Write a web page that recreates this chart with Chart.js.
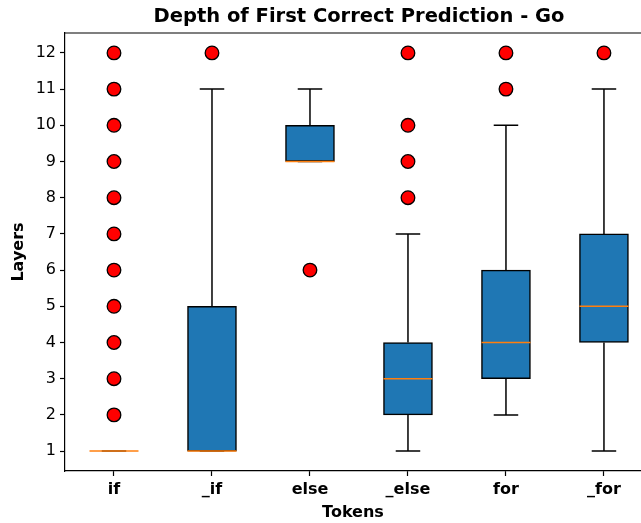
<!DOCTYPE html>
<html>
<head>
<meta charset="utf-8">
<script src="https://cdn.jsdelivr.net/npm/chart.js@4.4.1/dist/chart.umd.min.js"></script>
<style>
  html, body { margin: 0; padding: 0; background: #fff; overflow: hidden; }
  #wrap { width: 641px; height: 523px; }
</style>
</head>
<body>
<div id="wrap"><canvas id="boxChart" width="641" height="523"></canvas></div>
<script>
// Box plot values
var tokens = ['if', '_if', 'else', '_else', 'for', '_for'];
var q1 = [1, 1, 9, 2, 3, 4];
var q3 = [1, 5, 10, 4, 6, 7];
var medians = [1, 1, 9, 3, 4, 5];
var whiskerLow = [1, 1, 9, 1, 2, 1];
var whiskerHigh = [1, 11, 11, 7, 10, 11];
var outliers = [
  [2, 3, 4, 5, 6, 7, 8, 9, 10, 11, 12],
  [12],
  [6],
  [8, 9, 10, 12],
  [11, 12],
  [12]
];
var yTicks = [1, 2, 3, 4, 5, 6, 7, 8, 9, 10, 11, 12];
var chartTitle = 'Depth of First Correct Prediction - Go';

var fontFamily = '"DejaVu Sans", sans-serif';

var boxData = tokens.map(function(t, i) { return { x: i + 1, y: [q1[i], q3[i]] }; });
var flierData = [];
outliers.forEach(function(list, i) {
  list.forEach(function(v) { flierData.push({ x: i + 1, y: v }); });
});

// whiskers, caps, medians, top frame line and the title
// (the plot area runs past the right edge, so the title is centred on the axes, not the canvas)
var boxLines = {
  id: 'boxLines',
  afterDatasetsDraw: function(chart) {
    var ctx = chart.ctx;
    var xs = chart.scales.x, ys = chart.scales.y;
    var area = chart.chartArea;
    var capHalf = (xs.getPixelForValue(1.125) - xs.getPixelForValue(1));
    var boxHalf = (xs.getPixelForValue(1.25) - xs.getPixelForValue(1));
    ctx.save();
    ctx.lineCap = 'butt';
    tokens.forEach(function(t, i) {
      var cx = xs.getPixelForValue(i + 1);
      ctx.strokeStyle = '#000';
      ctx.lineWidth = 1.5;
      // whiskers
      ctx.beginPath();
      ctx.moveTo(cx, ys.getPixelForValue(q1[i]));
      ctx.lineTo(cx, ys.getPixelForValue(whiskerLow[i]));
      ctx.moveTo(cx, ys.getPixelForValue(q3[i]));
      ctx.lineTo(cx, ys.getPixelForValue(whiskerHigh[i]));
      ctx.stroke();
      // caps
      ctx.beginPath();
      [whiskerLow[i], whiskerHigh[i]].forEach(function(v) {
        var py = ys.getPixelForValue(v);
        ctx.moveTo(cx - capHalf, py);
        ctx.lineTo(cx + capHalf, py);
      });
      ctx.stroke();
      // median
      ctx.strokeStyle = '#ff7f0e';
      ctx.lineWidth = 1.5;
      ctx.beginPath();
      var my = ys.getPixelForValue(medians[i]);
      ctx.moveTo(cx - boxHalf, my);
      ctx.lineTo(cx + boxHalf, my);
      ctx.stroke();
    });
    // top spine
    ctx.strokeStyle = '#000';
    ctx.lineWidth = 1.2;
    ctx.beginPath();
    ctx.moveTo(area.left, area.top);
    ctx.lineTo(area.right, area.top);
    ctx.stroke();
    // title
    ctx.fillStyle = '#000';
    ctx.font = 'bold 19.5px ' + fontFamily;
    ctx.textAlign = 'center';
    ctx.textBaseline = 'middle';
    ctx.fillText(chartTitle, xs.getPixelForValue(3.5), 17);
    ctx.restore();
  }
};

var boxCtx = document.getElementById('boxChart').getContext('2d');
var boxChart = new Chart(boxCtx, {
  type: 'bar',
  data: {
    datasets: [{
      label: 'boxes',
      data: boxData,
      backgroundColor: '#1f77b4',
      borderColor: '#000',
      borderWidth: 1.5,
      borderSkipped: false,
      barThickness: 49,
      order: 2
    },
    {
      type: 'scatter',
      label: 'fliers',
      data: flierData,
      backgroundColor: '#ff0000',
      borderColor: '#000',
      borderWidth: 1.3,
      pointRadius: 6.8,
      order: 1
    }]
  },
  options: {
    responsive: false,
    animation: false,
    layout: { padding: { top: 33, left: 0, right: 0, bottom: 0 }, autoPadding: false },
    plugins: {
      legend: { display: false },
      tooltip: { enabled: false },
      title: { display: false }
    },
    scales: {
      x: {
        type: 'linear',
        min: 0.5,
        max: 6.378,
        offset: false,
        grid: { display: true, drawOnChartArea: false, offset: false, tickLength: 5, color: '#000', tickWidth: 1.2 },
        border: { display: true, color: '#000', width: 1.2 },
        afterBuildTicks: function(scale) {
          scale.ticks = tokens.map(function(t, i) { return { value: i + 1 }; });
        },
        afterFit: function(scale) { scale.height = 52; },
        ticks: {
          color: '#000',
          padding: 4,
          font: { family: fontFamily, size: 16, weight: 'bold' },
          callback: function(value) { return tokens[value - 1]; }
        },
        title: {
          display: true,
          text: 'Tokens',
          color: '#000',
          font: { family: fontFamily, size: 16, weight: 'bold' },
          padding: { top: 0, bottom: 1 }
        }
      },
      y: {
        min: 0.45,
        max: 12.55,
        grid: { display: true, drawOnChartArea: false, tickLength: 5, color: '#000', tickWidth: 1.2 },
        border: { display: true, color: '#000', width: 1.2 },
        afterBuildTicks: function(scale) {
          scale.ticks = yTicks.map(function(v) { return { value: v }; });
        },
        afterFit: function(scale) { scale.width = 65; },
        ticks: {
          color: '#000',
          padding: 4,
          font: { family: fontFamily, size: 16 }
        },
        title: {
          display: true,
          text: 'Layers',
          color: '#000',
          font: { family: fontFamily, size: 16, weight: 'bold' },
          padding: { top: 9, bottom: 0 }
        }
      }
    }
  },
  plugins: [boxLines]
});
</script>
</body>
</html>
